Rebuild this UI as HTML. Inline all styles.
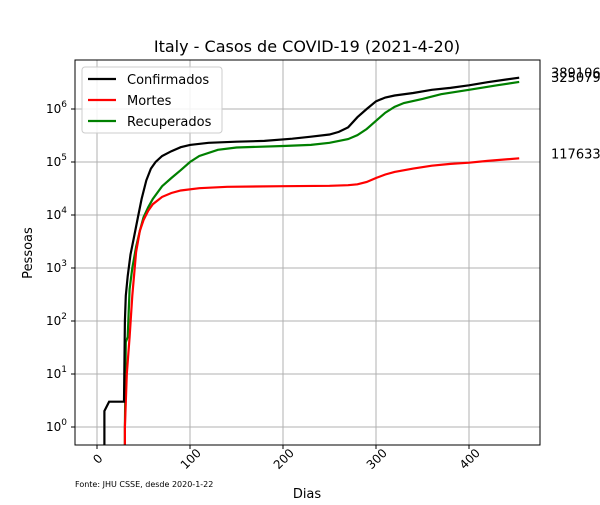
<!DOCTYPE html>
<html><head><meta charset="utf-8"><style>body{margin:0;background:#fff}svg{font-family:"DejaVu Sans","Liberation Sans",sans-serif}</style></head>
<body>
<svg id="c" width="600" height="500"></svg>
<script>
const confDays=[8,13,29,30,31,33,36,40,44,48,53,58,63,70,80,90,100,120,150,180,210,230,250,260,270,280,290,300,310,320,340,360,380,400,420,440,454];
const confVals=[2,3,3,100,300,700,1800,4000,9000,20000,45000,75000,100000,130000,160000,190000,210000,230000,242000,250000,275000,300000,330000,370000,450000,700000,1000000,1400000,1650000,1800000,2000000,2300000,2500000,2800000,3200000,3600000,3891063];
const deathDays=[30,32,35,38,42,46,50,55,60,70,80,90,110,140,200,250,270,280,290,300,310,320,340,360,380,400,420,454];
const deathVals=[1,10,50,300,2000,5000,8000,12000,16000,22000,26000,29000,32000,34000,35000,35500,36500,38000,42000,50000,58000,65000,75000,85000,92000,97000,105000,117633];
const recDays=[30,31,33,35,38,42,46,50,55,60,70,80,90,100,110,130,150,200,230,250,270,280,290,300,310,320,330,350,370,400,430,454];
const recVals=[1,40,50,400,1000,2500,5000,9000,14000,20000,35000,50000,70000,100000,130000,170000,188000,200000,210000,230000,270000,320000,420000,600000,850000,1100000,1300000,1550000,1900000,2300000,2800000,3250799];
const xTicks=[0,100,200,300,400];
const yTicks=[0,1,2,3,4,5,6];
const L=75,R=540,T=60,B=445;
const xs=d=>97+d*0.93;
const ys=v=>427-Math.log10(v)*53;
const NS='http://www.w3.org/2000/svg',svg=document.getElementById('c');
function mk(t,a,txt){const e=document.createElementNS(NS,t);for(const k in a)e.setAttribute(k,a[k]);if(txt!==undefined)e.textContent=txt;svg.appendChild(e);return e;}
let e=mk('text',{x:307,y:52,'font-size':16,'text-anchor':'middle'},'Italy - Casos de COVID-19 (2021-4-20)');

xTicks.forEach(t=>{const x=xs(t);
 let g=mk('line',{x1:x,x2:x,y1:T,y2:B,stroke:'#b0b0b0','stroke-width':1});
 mk('line',{x1:x,x2:x,y1:B,y2:B+4,stroke:'#000'});
 let l=mk('text',{x:x,y:B+20,'font-size':12,'text-anchor':'middle',transform:`rotate(-45 ${x-2} ${B+14})`},String(t));});
yTicks.forEach(p=>{const y=ys(Math.pow(10,p));
 let g=mk('line',{x1:L,x2:R,y1:y,y2:y,stroke:'#b0b0b0','stroke-width':1});
 mk('line',{x1:L-4,x2:L,y1:y,y2:y,stroke:'#000'});
 let l=mk('text',{x:L-8,y:y+4,'font-size':12,'text-anchor':'end'});l.innerHTML='10<tspan dy="-6" font-size="9">'+p+'</tspan>';});
function series(days,vals,col,name){const pts=days.map((d,i)=>xs(d).toFixed(1)+','+Math.min(B+5,ys(vals[i])).toFixed(1));
 pts.unshift(xs(days[0]).toFixed(1)+','+(B+5));
 let p=mk('polyline',{points:pts.join(' '),fill:'none',stroke:col,'stroke-width':2.2});
 let l=mk('text',{x:551,y:ys(vals[vals.length-1]),'font-size':13},String(vals[vals.length-1]));}
const cp=document.createElementNS(NS,'clipPath');cp.id='cl';cp.innerHTML=`<rect x="${L}" y="${T}" width="${R-L}" height="${B-T}"/>`;svg.appendChild(cp);
series(recDays,recVals,'#008000','recuperados');
series(deathDays,deathVals,'#ff0000','mortes');
series(confDays,confVals,'#000','confirmados');
svg.querySelectorAll('polyline').forEach(p=>p.setAttribute('clip-path','url(#cl)'));
let f=mk('rect',{x:L,y:T,width:R-L,height:B-T,fill:'none',stroke:'#000','stroke-width':1});
let lg=mk('rect',{x:82,y:67,width:140,height:66,fill:'#fff','fill-opacity':0.85,stroke:'#ccc',rx:3});
[['Confirmados','#000'],['Mortes','#ff0000'],['Recuperados','#008000']].forEach((s,i)=>{const y=79+i*21;
 mk('line',{x1:88,x2:116,y1:y,y2:y,stroke:s[1],'stroke-width':2.2});
 let t=mk('text',{x:127,y:y+5,'font-size':13},s[0]);});
let xl=mk('text',{x:307,y:498,'font-size':13,'text-anchor':'middle'},'Dias');
let yl=mk('text',{x:32,y:253,'font-size':13,'text-anchor':'middle',transform:'rotate(-90 32 253)'},'Pessoas');
let src=mk('text',{x:75,y:487,'font-size':8},'Fonte: JHU CSSE, desde 2020-1-22');
</script>
</body></html>
